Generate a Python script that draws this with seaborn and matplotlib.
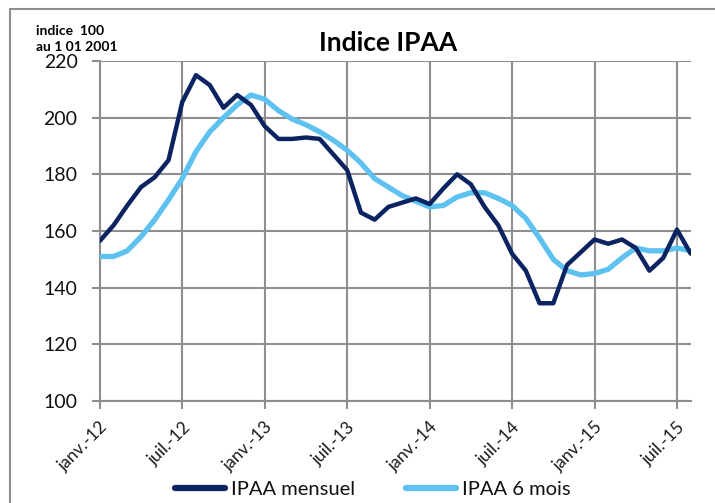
import matplotlib
matplotlib.use("Agg")
import matplotlib.pyplot as plt
import matplotlib.transforms as mtransforms
import seaborn as sns
import pandas as pd
import numpy as np
from matplotlib.lines import Line2D

# ---- data ----
months = list(range(44))  # janv.-12 .. août-15
ipaa_mensuel = [156.5, 162, 169, 175.5, 179, 185, 205.5, 215, 211.5, 203.5, 208, 204.5,
                197, 192.5, 192.5, 193, 192.5, 187, 181.5, 166.5, 164, 168.5, 170, 171.5,
                169.5, 175, 180, 176.5, 168.5, 162, 152, 146, 134.5, 134.5, 148, 152.5,
                157, 155.5, 157, 154, 146, 150.5, 160.5, 152]
ipaa_6mois = [151, 151, 153, 158, 164, 171, 178.5, 188, 195, 200, 204.5, 208,
              206.5, 202.5, 199.5, 197.5, 195, 192, 188.5, 184, 178.5, 175.5, 172.5, 170.5,
              168.5, 169, 172, 173.5, 173.5, 171.5, 169, 164.5, 157.5, 150, 146, 144.5,
              145, 146.5, 150.5, 154, 153, 153, 154, 153]
tick_pos = [0, 6, 12, 18, 24, 30, 36, 42]
tick_labels = ["janv.-12", "juil.-12", "janv.-13", "juil.-13", "janv.-14", "juil.-14",
               "janv.-15", "juil.-15"]
series_names = ["IPAA mensuel", "IPAA 6 mois"]
colors = ["#0b2461", "#5ec2f0"]

df = pd.DataFrame({
    "mois": months * 2,
    "valeur": ipaa_mensuel + ipaa_6mois,
    "serie": [series_names[0]] * len(months) + [series_names[1]] * len(months),
})

sns.set_theme(style="white")
plt.rcParams["font.family"] = ["Lato", "DejaVu Sans"]

fig = plt.figure(figsize=(7.15, 5.03), dpi=100)
ax = fig.add_axes([99.8 / 715, 1 - 401 / 503, (690.7 - 99.8) / 715, (401 - 61) / 503])

sns.lineplot(data=df, x="mois", y="valeur", hue="serie", hue_order=series_names,
             palette=colors, ax=ax, legend=False, linewidth=3.2, sort=False)
ax.lines[1].set_linewidth(3.8)
ax.lines[0].set_zorder(4)
ax.lines[1].set_zorder(3)

grid_c = "#8e8e8e"
ax.set_xlim(0, 43)
ax.set_ylim(100, 220)
ax.set_yticks(range(100, 221, 20))
ax.set_xticks(tick_pos)
ax.set_xticklabels(tick_labels, rotation=45, ha="right", rotation_mode="anchor",
                   fontsize=12.5, color="#1a1a1a")
offset = mtransforms.ScaledTranslation(4 / 100, 0, fig.dpi_scale_trans)
for lab in ax.get_xticklabels():
    lab.set_transform(lab.get_transform() + offset)
ax.tick_params(axis="y", labelsize=14, labelcolor="#111111", length=6, width=1.5,
               color=grid_c, direction="out", pad=10, left=True)
ax.tick_params(axis="x", length=6, width=1.5, color=grid_c, direction="out", pad=7, bottom=True)
ax.grid(True, color=grid_c, linewidth=1.5)
ax.set_axisbelow(True)
for s in ["top", "right"]:
    ax.spines[s].set_visible(False)
for s in ["left", "bottom"]:
    ax.spines[s].set_color(grid_c)
    ax.spines[s].set_linewidth(1.5)
ax.set_xlabel("")
ax.set_ylabel("")

fig.text(388 / 715, 1 - 43 / 503, "Indice IPAA", ha="center", va="center",
         fontsize=19, fontweight="bold", color="#000000")
fig.text(36 / 715, 1 - 31 / 503, "indice  100", ha="left", va="center",
         fontsize=10, fontweight="bold", color="#000000")
fig.text(36 / 715, 1 - 47 / 503, "au 1 01 2001", ha="left", va="center",
         fontsize=10, fontweight="bold", color="#000000")

# outer frame (top & left visible)
fig.add_artist(Line2D([10 / 715, 1.0], [1 - 9 / 503, 1 - 9 / 503], color=grid_c, lw=1.5))
fig.add_artist(Line2D([10 / 715, 10 / 715], [0, 1 - 9 / 503], color=grid_c, lw=1.5))

handles = [Line2D([0], [0], color=colors[0], lw=4.5, solid_capstyle="round"),
           Line2D([0], [0], color=colors[1], lw=4.5, solid_capstyle="round")]
fig.legend(handles, series_names, loc="center", bbox_to_anchor=(373 / 715, 1 - 489 / 503),
           ncol=2, frameon=False, fontsize=14.5, handlelength=2.5, columnspacing=2.5,
           handletextpad=0.3, labelcolor="#111111")

fig.savefig("out.png", dpi=100)
